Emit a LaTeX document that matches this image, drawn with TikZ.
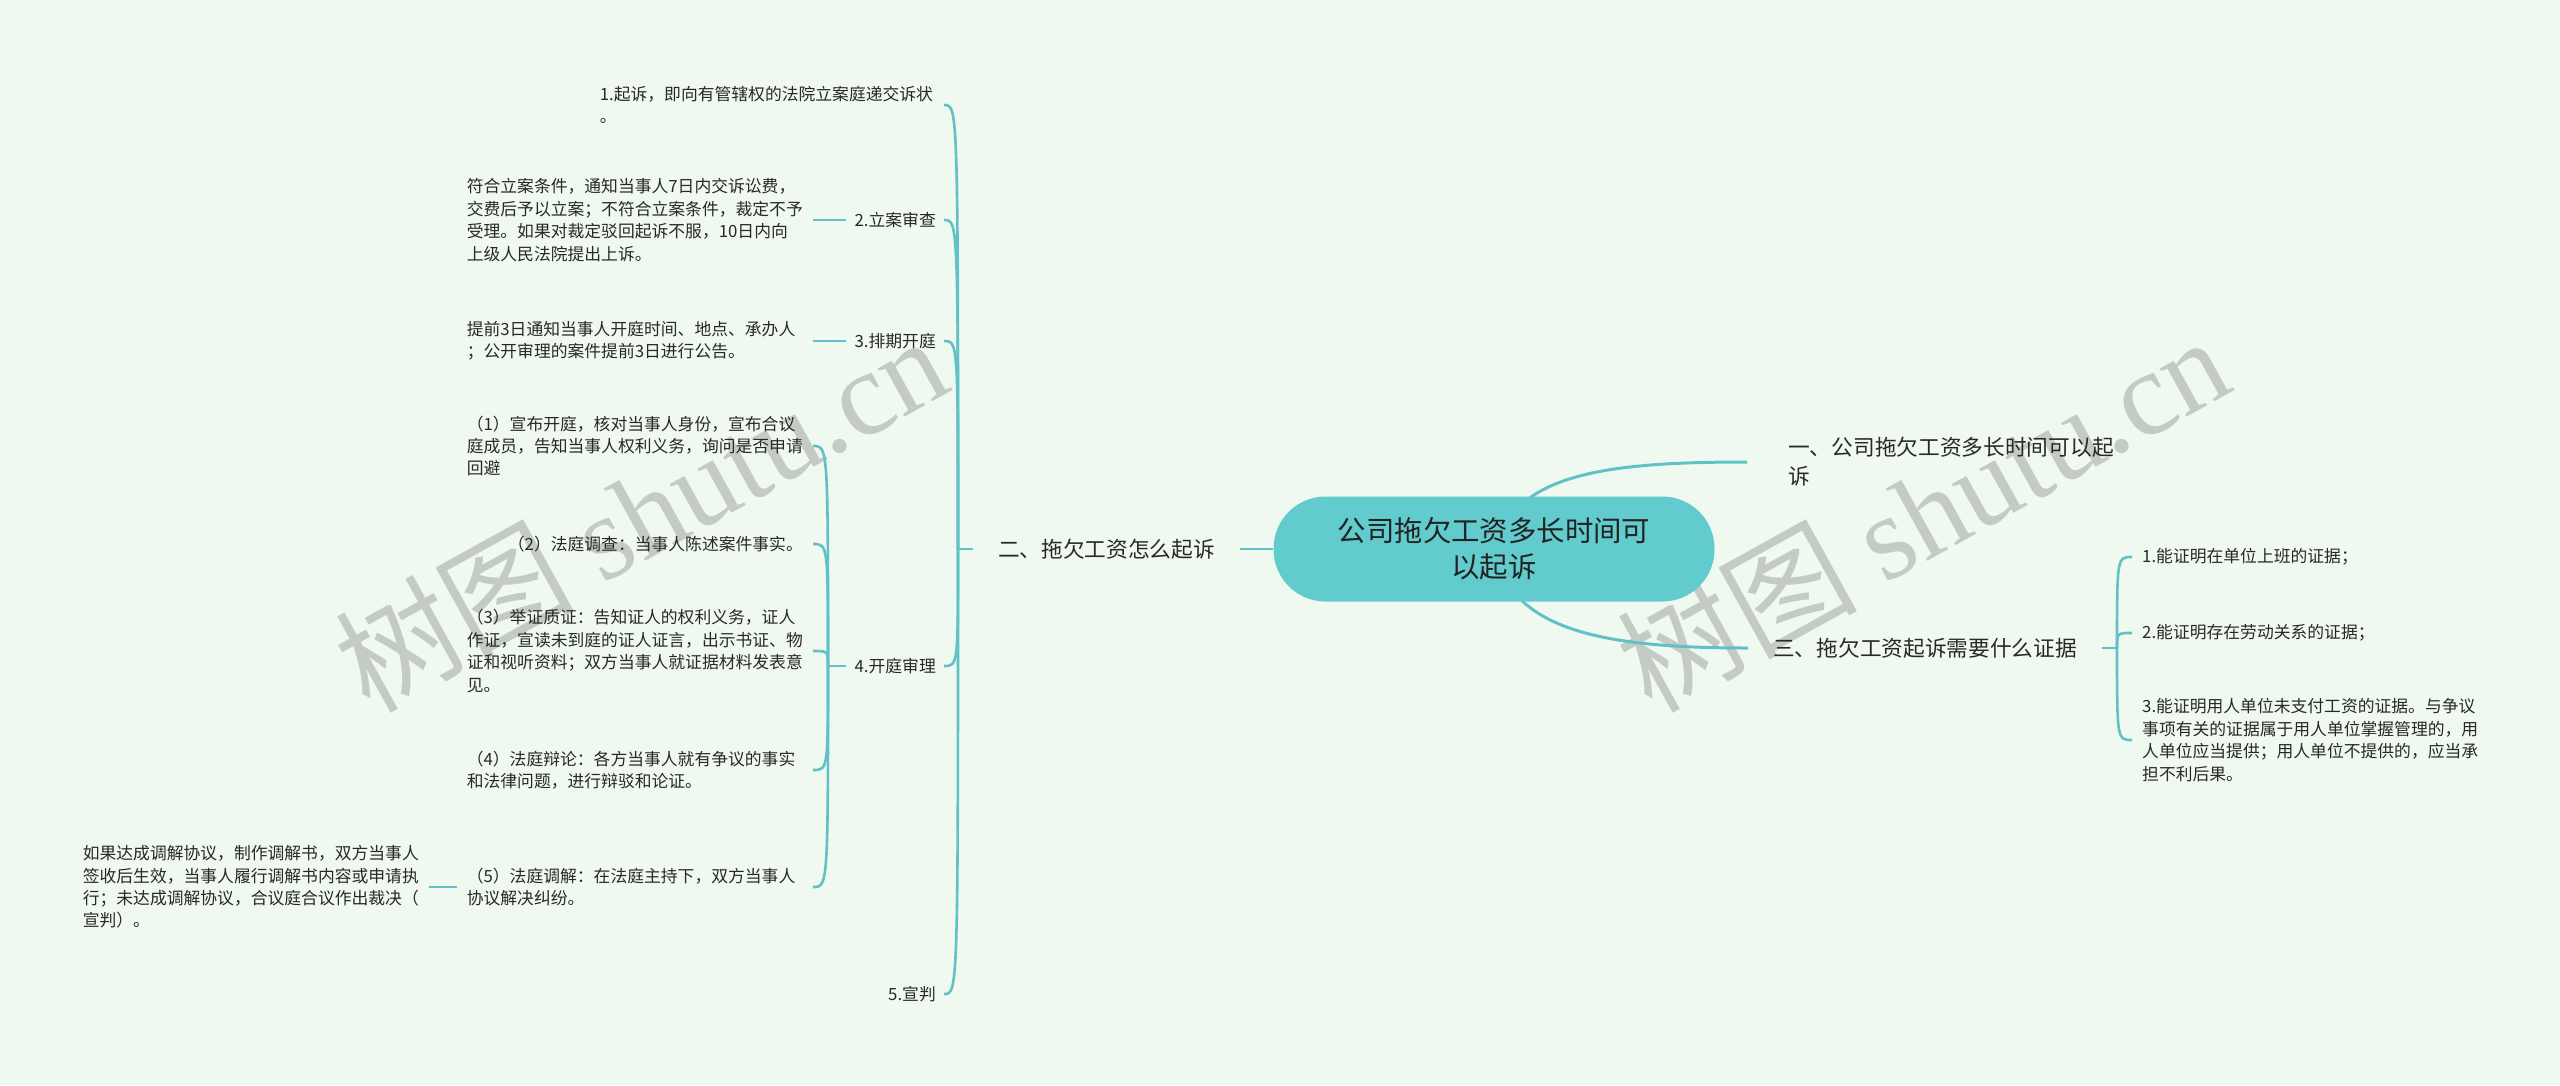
\documentclass[tikz,border=0pt]{standalone}
\usepackage{fontspec}
\setmainfont{Noto Sans CJK SC}
\newfontfamily\wmserif{Liberation Serif}
\usetikzlibrary{calc}
\definecolor{bgc}{RGB}{240,249,240}
\definecolor{linec}{RGB}{96,193,199}
\definecolor{rootc}{RGB}{97,203,205}
\definecolor{txt}{RGB}{40,40,40}
\definecolor{wmc}{RGB}{196,203,197}
\pgfdeclarelayer{bg}
\pgfdeclarelayer{background}
\pgfsetlayers{bg,background,main}
\begin{document}
\begin{tikzpicture}[x=1pt,y=-1pt,
  conn/.style={draw=linec, line width=2.6pt},
  rootconn/.style={draw=linec, line width=3pt},
  small/.style={font=\fontsize{16.8pt}{22.4pt}\selectfont, text=txt, inner ysep=3pt},
  kid/.style={small, inner xsep=8pt, anchor=east},
  gk/.style={small, inner xsep=10pt, anchor=east, text width=336pt, align=left},
  sk/.style={small, inner xsep=10pt, anchor=east},
  rk/.style={small, inner xsep=10pt, anchor=west},
  lvl/.style={font=\fontsize{21.7pt}{29pt}\selectfont, text=txt, inner xsep=25pt, inner ysep=4pt},
  root/.style={fill=rootc, rounded corners=52pt, minimum width=441pt, minimum height=105pt,
    align=center, font=\fontsize{28.4pt}{36pt}\selectfont, text=txt!85!black, inner sep=0pt},
  wm/.style={text=wmc, font=\fontsize{120pt}{120pt}\selectfont, rotate=29, inner sep=0pt}
]
\begin{pgfonlayer}{bg}
\fill[bgc] (0,0) rectangle (2560,1085);
\node[wm] (wm1) at (640,512) {树图 {\wmserif shutu.cn}};
\node[wm] (wm2) at (1922,512) {树图 {\wmserif shutu.cn}};
\end{pgfonlayer}
\useasboundingbox (0,0) rectangle (2560,1085);

% root and level-1
\node[root] (root) at (1494,549) {公司拖欠工资多长时间可\\以起诉};
\node[lvl] (n2) at (1106.5,549) {二、拖欠工资怎么起诉};
\node[lvl, text width=326pt, align=left, inner xsep=41pt, anchor=west] (n1) at (1747,462) {一、公司拖欠工资多长时间可以起\\诉};
\node[lvl, anchor=west] (n3) at (1748,648) {三、拖欠工资起诉需要什么证据};

\coordinate (h2) at (958,549);
\coordinate (h4) at (828,666);
\coordinate (h3) at (2117,648);

% left children
\node[kid, text width=336pt, align=left] (c1) at (944,105) {1.起诉，即向有管辖权的法院立案庭递交诉状\\。};
\node[kid] (c2) at (944,220) {2.立案审查};
\node[kid] (c3) at (944,341) {3.排期开庭};
\node[kid] (c4) at (944,666) {4.开庭审理};
\node[kid] (c5) at (944,994) {5.宣判};

% grandchildren
\node[gk] (g2) at (813,220) {符合立案条件，通知当事人7日内交诉讼费，\\交费后予以立案；不符合立案条件，裁定不予\\受理。如果对裁定驳回起诉不服，10日内向\\上级人民法院提出上诉。};
\node[gk] (g3) at (813,341) {提前3日通知当事人开庭时间、地点、承办人\\；公开审理的案件提前3日进行公告。};
\node[gk] (s1) at (813,446) {（1）宣布开庭，核对当事人身份，宣布合议\\庭成员，告知当事人权利义务，询问是否申请\\回避};
\node[sk] (s2) at (813,544) {（2）法庭调查：当事人陈述案件事实。};
\node[gk] (s3) at (813,651) {（3）举证质证：告知证人的权利义务，证人\\作证，宣读未到庭的证人证言，出示书证、物\\证和视听资料；双方当事人就证据材料发表意\\见。};
\node[gk] (s4) at (813,770) {（4）法庭辩论：各方当事人就有争议的事实\\和法律问题，进行辩驳和论证。};
\node[gk] (s5) at (813,887) {（5）法庭调解：在法庭主持下，双方当事人\\协议解决纠纷。};
\node[gk] (g5) at (429,887) {如果达成调解协议，制作调解书，双方当事人\\签收后生效，当事人履行调解书内容或申请执\\行；未达成调解协议，合议庭合议作出裁决（\\宣判）。};

% right children
\node[rk] (r1) at (2132,557) {1.能证明在单位上班的证据；};
\node[rk] (r2) at (2132,633) {2.能证明存在劳动关系的证据；};
\node[rk, text width=336pt, align=left] (r3) at (2132,740) {3.能证明用人单位未支付工资的证据。与争议\\事项有关的证据属于用人单位掌握管理的，用\\人单位应当提供；用人单位不提供的，应当承\\担不利后果。};

\begin{pgfonlayer}{background}
\draw[rootconn] (root.center) .. controls +(21,-74) and +(-147,0) .. (n1.west);
\draw[rootconn] (root.center) .. controls +(16,81) and +(-147,0) .. (n3.west);
\draw[conn] (n2.east) -- (root.west);
\draw[conn] (n2.west) -- (h2);
\foreach \c in {c1,c2,c3,c4,c5}{
  \draw[conn] (h2) .. controls (h2 |- \c.east) and (h2 |- \c.east) .. (\c.east);
}
\draw[conn] (c2.west) -- (g2.east);
\draw[conn] (c3.west) -- (g3.east);
\draw[conn] (c4.west) -- (h4);
\foreach \s in {s1,s2,s3,s4,s5}{
  \draw[conn] (h4) .. controls (h4 |- \s.east) and (h4 |- \s.east) .. (\s.east);
}
\draw[conn] (s5.west) -- (g5.east);
\draw[conn] (n3.east) -- (h3);
\foreach \r in {r1,r2,r3}{
  \draw[conn] (h3) .. controls (h3 |- \r.west) and (h3 |- \r.west) .. (\r.west);
}
\end{pgfonlayer}
\end{tikzpicture}
\end{document}
